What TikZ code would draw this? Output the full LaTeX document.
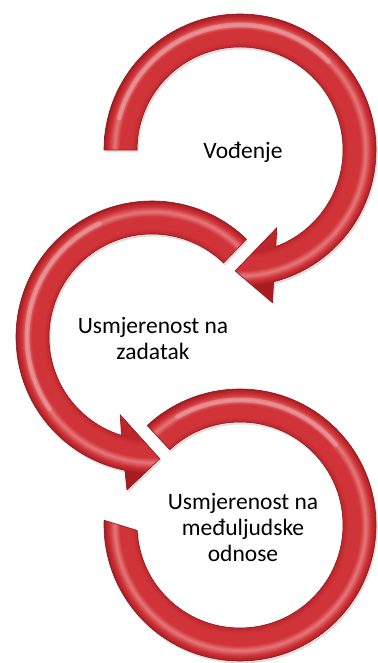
\documentclass[tikz,border=0pt]{standalone}
\usepackage{fontspec}
\setmainfont{Carlito}
\definecolor{rdk}{RGB}{168,28,33}
\definecolor{rin}{RGB}{190,38,43}
\definecolor{rmd}{RGB}{208,52,57}
\definecolor{rlt}{RGB}{228,120,122}
\definecolor{redge}{RGB}{145,22,27}
\pgfdeclareradialshading{tube}{\pgfpointorigin}{color(0bp)=(rin); color(16.1bp)=(rin); color(17.0bp)=(rmd); color(18.8bp)=(rmd); color(19.6bp)=(rlt); color(20.4bp)=(rmd); color(21.25bp)=(rdk); color(25bp)=(rdk); color(50bp)=(rdk)}
\newcommand{\ArrOne}{(180:136pt) arc[start angle=180,end angle=-75.7,radius=136pt] -- (-78:156pt) -- (-92.3:121pt) -- (-64.6:86pt) -- (-69.7:103pt) arc[start angle=-69.7,end angle=180,radius=103pt] -- cycle}
\newcommand{\ArrTwo}{(46:136pt) arc[start angle=46,end angle=258.5,radius=136pt] -- (260.7:155pt) -- (273.7:122pt) -- (247.7:84pt) -- (252.8:103pt) arc[start angle=252.8,end angle=46,radius=103pt] -- cycle}
\newcommand{\ArrThree}{(133:136pt) arc[start angle=133,end angle=-182,radius=136pt] -- (-177:103pt) arc[start angle=-177,end angle=133,radius=103pt] -- cycle}
\tikzset{
  shadowfill/.style={fill=black,opacity=0.13},
  bandedge/.style={draw=redge,line width=0.6pt},
  lbl/.style={align=center,text=black,font=\fontsize{23.5}{26}\selectfont},
  gloss/.style={draw=white,opacity=0.22,line width=5pt,line cap=round}
}
\begin{document}
\begin{tikzpicture}[x=1pt,y=1pt]
\fill[white] (0,0) rectangle (377,663);
\useasboundingbox (0,0) rectangle (377,663);
% arrow 1
\begin{scope}[shift={(240,513)}]
  \fill[shadowfill,shift={(1.5,-2.5)}] \ArrOne;
  \begin{scope}
    \clip \ArrOne;
    \shade[shading=tube] (0,0) circle (160pt);
  \end{scope}
  \draw[gloss] (165:125pt) arc[start angle=165,end angle=45,radius=125pt];
  \draw[bandedge] \ArrOne;
\end{scope}
% arrow 2
\begin{scope}[shift={(152,326)}]
  \fill[shadowfill,shift={(1.5,-2.5)}] \ArrTwo;
  \begin{scope}
    \clip \ArrTwo;
    \shade[shading=tube] (0,0) circle (160pt);
  \end{scope}
  \draw[gloss] (115:125pt) arc[start angle=115,end angle=215,radius=125pt];
  \draw[bandedge] \ArrTwo;
\end{scope}
% arrow 3
\begin{scope}[shift={(240,138)}]
  \fill[shadowfill,shift={(1.5,-2.5)}] \ArrThree;
  \begin{scope}
    \clip \ArrThree;
    \shade[shading=tube] (0,0) circle (160pt);
  \end{scope}
  \draw[gloss] (120:125pt) arc[start angle=120,end angle=40,radius=125pt];
  \draw[bandedge] \ArrThree;
\end{scope}
\node[lbl] (t1) at (243,511) {Vođenje};
\node[lbl] (t2) at (153,324) {Usmjerenost na\\zadatak};
\node[lbl] (t3) at (243,135) {Usmjerenost na\\međuljudske\\odnose};
\end{tikzpicture}
\end{document}
